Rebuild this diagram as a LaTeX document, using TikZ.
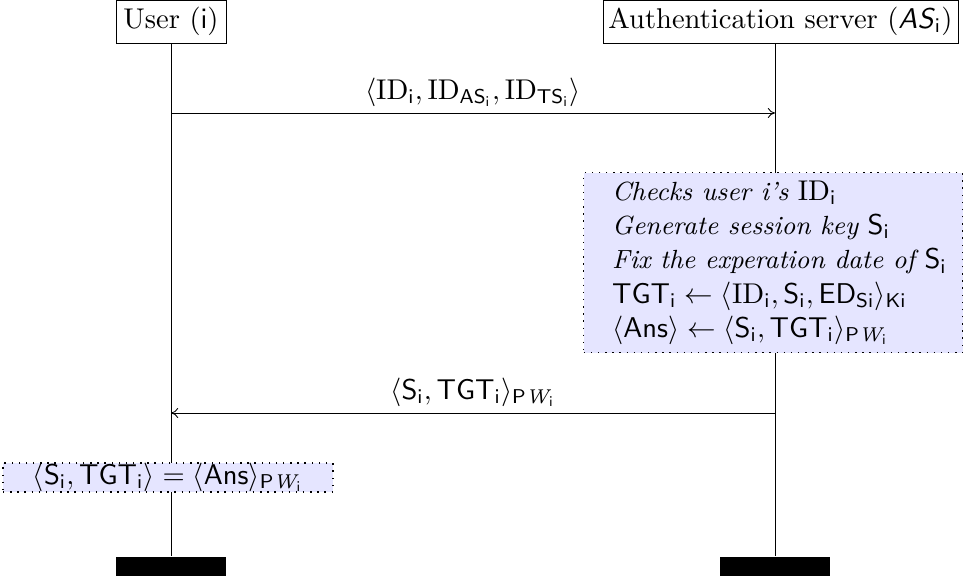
\documentclass[tikz,border=0pt]{standalone}
\usetikzlibrary{arrows.meta}
\newcommand{\ssi}{\mathsf{i}}
\newcommand{\nit}[1]{{\fontsize{9.2pt}{12pt}\selectfont\itshape #1}}
\begin{document}
\begin{tikzpicture}[x=0.35pt,y=-0.35pt,
  actor/.style={draw,line width=0.3pt,inner sep=0pt,minimum height=15.05pt,font=\normalsize},
  note/.style={draw,dotted,line width=0.5pt,fill=blue!10},
  bar/.style={fill=black,inner sep=0pt,minimum width=38.5pt,minimum height=6.65pt},
  life/.style={line width=0.3pt},
  msg/.style={-{To[length=2.5pt,width=3.5pt]},line width=0.3pt},
  lbl/.style={above,inner sep=2pt}]
\useasboundingbox (0,0) rectangle (963,581);
% actors
\node[actor,minimum width=38.5pt] (user) at (171,21.5) {User $(\ssi)$};
\node[actor,minimum width=124.25pt] (as) at (780.5,21.5) {Authentication server ($\textsf{\textit{AS}}_{\ssi}$)};
% end bars
\node[bar] (ubar) at (171,566.5) {};
\node[bar] (abar) at (775,566.5) {};
% lifelines
\draw[life] (ubar |- user.south) -- (ubar.north);
\draw[life] (abar |- as.south) -- (abar.north);
% message 1
\coordinate (m1u) at (171,113);
\coordinate (m1a) at (775,113);
\draw[msg] (m1u) -- node[lbl] {$\langle \mathrm{ID}_{\ssi}, \mathrm{ID}_{\mathsf{AS}_{\ssi}}, \mathrm{ID}_{\mathsf{TS}_{\ssi}}\rangle$} (m1a);
% note 1
\node[note,minimum width=132.65pt,minimum height=63pt,inner sep=0pt,anchor=north west] (n1) at (583,172) {};
\node[align=left,anchor=west,inner sep=0pt] (n1t) at ([xshift=10pt]n1.west)
{\baselineskip=12.25pt
\nit{Checks user i's} $\mathrm{ID}_{\ssi}$\\
\nit{Generate session key} $\mathsf{S}_{\ssi}$\\
\nit{Fix the experation date of} $\mathsf{S}_{\ssi}$\\
$\mathsf{TGT}_{\ssi} \leftarrow \langle \mathrm{ID}_{\ssi}, \mathsf{S}_{\ssi}, \mathsf{ED}_{\mathsf{Si}}\rangle_{\mathsf{Ki}}$\\
$\langle\mathsf{Ans}\rangle \leftarrow \langle \mathsf{S}_{\ssi},\mathsf{TGT}_{\ssi}\rangle_{\mathsf{P}\mathit{W}_{\ssi}}$};
% message 2
\coordinate (m2u) at (171,413);
\coordinate (m2a) at (775,413);
\draw[msg] (m2a) -- node[lbl] {$\langle \mathsf{S}_{\ssi},\mathsf{TGT}_{\ssi}\rangle_{\mathsf{P}\mathit{W}_{\ssi}}$} (m2u);
% note 2
\node[note,minimum width=115.5pt,minimum height=8.75pt,inner ysep=0pt] (n2) at (168,477.5)
{$\langle \mathsf{S}_{\ssi},\mathsf{TGT}_{\ssi}\rangle = \langle\mathsf{Ans}\rangle_{\mathsf{P}\mathit{W}_{\ssi}}$};
\end{tikzpicture}
\end{document}
